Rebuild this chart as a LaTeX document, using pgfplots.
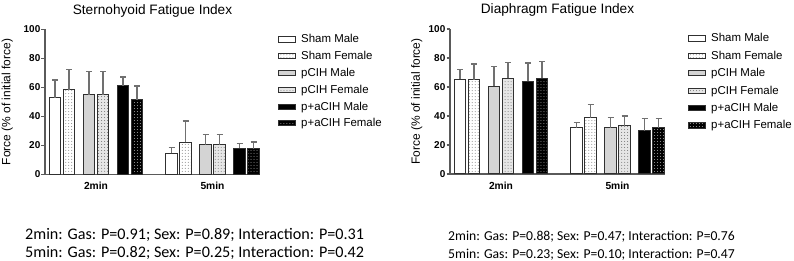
\documentclass[border=0pt]{standalone}
\usepackage{fontspec}
\setmainfont{Liberation Sans}
\newfontfamily\carlito{Carlito}
\usepackage{pgfplots}
\pgfplotsset{compat=1.18}
\usetikzlibrary{patterns}

\definecolor{barline}{HTML}{303030}
\definecolor{errc}{HTML}{707070}
\definecolor{axc}{HTML}{5A5A5A}
\definecolor{lgray}{HTML}{D4D4D4}
\definecolor{lgrayb}{HTML}{E6E6E6}

\pgfplotsset{
  fatigue/.style={
    x=1bp, y=1.45bp, xmin=45, xmax=260, ymin=0, ymax=100,
    axis lines=left, axis line style={-, draw=axc, line width=1.3bp},
    enlargelimits=false, clip=false,
    xtick={96,212.5}, xticklabels={2min,5min},
    ytick={0,20,...,100},
    /pgf/number format/assume math mode=true,
    tick style={draw=axc, line width=1.2bp},
    x tick style={draw=none},
    tick align=outside, major tick length=3.5bp,
    yticklabel style={font=\fontsize{10}{11}\selectfont\bfseries, inner sep=1bp},
    xticklabel style={font=\fontsize{10.3}{12}\selectfont\bfseries, inner sep=1bp, yshift=-3bp},
    every axis title/.style={font=\fontsize{13.7}{15}\selectfont, at={(rel axis cs:0.5,1)}, anchor=base, yshift=15bp},
    legend style={draw=none, fill=none, font=\fontsize{11.5}{13}\selectfont, column sep=3bp, anchor=north west, inner sep=0bp},
    legend cell align=left,
    legend image code/.code={\draw[##1] (0bp,-2.6bp) rectangle (17.5bp,2.6bp);},
    every axis plot/.append style={ybar, bar width=11.5bp, bar shift=0pt, draw=barline, line width=1bp,
      error bars/y dir=plus, error bars/y explicit,
      error bars/error bar style={draw=errc, line width=1.3bp},
      error bars/error mark options={rotate=90, mark size=3bp, draw=errc, line width=1.3bp}},
  },
  smale/.style={fill=white},
  sfem/.style={fill=white, postaction={pattern=dots, pattern color=gray}},
  pmale/.style={fill=lgray},
  pfem/.style={fill=lgrayb, postaction={pattern=dots, pattern color=gray!90!black}},
  amale/.style={fill=black},
  afem/.style={fill=black, postaction={pattern=dots, pattern color=gray!70}},
}

\begin{document}
\begin{tikzpicture}
\path[use as bounding box] (0,0) rectangle (794bp,261bp);

% Left: Sternohyoid
\begin{axis}[fatigue, at={(45bp,86.5bp)}, anchor=south west,
  title={Sternohyoid Fatigue Index},
  ylabel={Force (\% of initial force)},
  every axis y label/.style={at={(axis description cs:0,0.5)}, xshift=-37.7bp, rotate=90, anchor=center, font=\fontsize{12}{14}\selectfont},
  legend style={at={(axis cs:277.5,98)}, row sep=3bp}]
\addplot[smale] coordinates {(55,53.1) +- (0,12.1) (171.5,14.6) +- (0,3.8)};
\addplot[sfem] coordinates {(69,58.5) +- (0,14.0) (185.5,22.1) +- (0,14.7)};
\addplot[pmale] coordinates {(89,55.1) +- (0,15.8) (205.5,20.5) +- (0,6.9)};
\addplot[pfem] coordinates {(103,55.1) +- (0,15.8) (219.5,20.5) +- (0,6.9)};
\addplot[amale] coordinates {(123,61.3) +- (0,5.9) (239.5,18.2) +- (0,3.0)};
\addplot[afem] coordinates {(137,51.7) +- (0,9.3) (253.5,17.7) +- (0,4.8)};
\legend{Sham Male, Sham Female, pCIH Male, pCIH Female, p+aCIH Male, p+aCIH Female}
\end{axis}

% Right: Diaphragm
\begin{axis}[fatigue, at={(450bp,87bp)}, anchor=south west,
  title={Diaphragm Fatigue Index},
  ylabel={Force (\% of initial force)},
  every axis y label/.style={at={(axis description cs:0,0.5)}, xshift=-33.3bp, rotate=90, anchor=center, font=\fontsize{12}{14}\selectfont},
  legend style={at={(axis cs:282.5,98.3)}, row sep=3.6bp}]
\addplot[smale] coordinates {(55,65.4) +- (0,6.7) (171.5,31.8) +- (0,3.7)};
\addplot[sfem] coordinates {(69,65.0) +- (0,10.8) (185.5,38.9) +- (0,9.0)};
\addplot[pmale] coordinates {(89,60.6) +- (0,13.4) (205.5,31.8) +- (0,7.1)};
\addplot[pfem] coordinates {(103,65.9) +- (0,11.0) (219.5,33.2) +- (0,6.9)};
\addplot[amale] coordinates {(123,63.8) +- (0,12.7) (239.5,29.9) +- (0,8.3)};
\addplot[afem] coordinates {(137,66.1) +- (0,11.5) (253.5,31.8) +- (0,6.4)};
\legend{Sham Male, Sham Female, pCIH Male, pCIH Female, p+aCIH Male, p+aCIH Female}
\end{axis}

\node[anchor=west, inner sep=0pt, font=\carlito\fontsize{16.2}{18}\selectfont] at (25bp,26.5bp) {2min: Gas: P=0.91; Sex: P=0.89; Interaction: P=0.31};
\node[anchor=west, inner sep=0pt, font=\carlito\fontsize{16.2}{18}\selectfont] at (25bp,8.5bp) {5min: Gas: P=0.82; Sex: P=0.25; Interaction: P=0.42};
\node[anchor=west, inner sep=0pt, font=\carlito\fontsize{13.7}{16}\selectfont] at (448bp,24bp) {2min: Gas: P=0.88; Sex: P=0.47; Interaction: P=0.76};
\node[anchor=west, inner sep=0pt, font=\carlito\fontsize{13.7}{16}\selectfont] at (448bp,6.5bp) {5min: Gas: P=0.23; Sex: P=0.10; Interaction: P=0.47};
\end{tikzpicture}
\end{document}
